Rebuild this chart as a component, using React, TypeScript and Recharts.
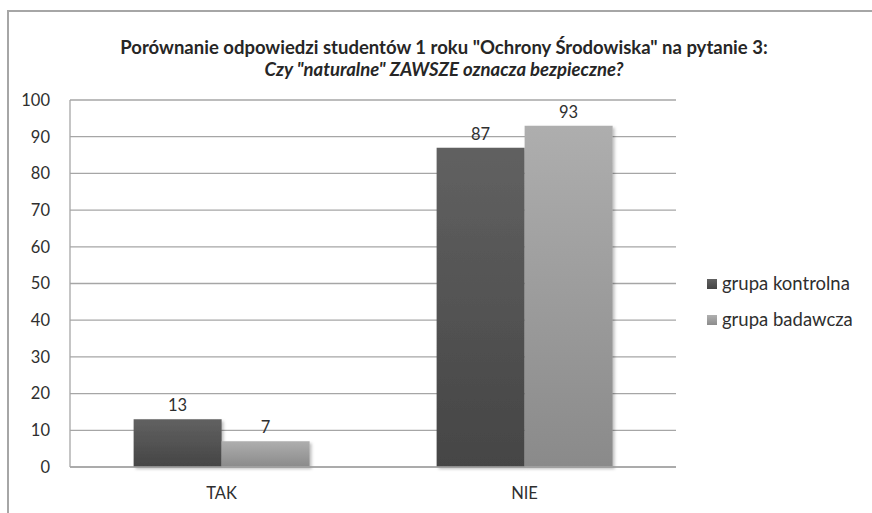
import React from "react";
import { BarChart, Bar, XAxis, YAxis, CartesianGrid, LabelList } from "recharts";

const categories = ["TAK", "NIE"];
const grupaKontrolna = [13, 87];
const grupaBadawcza = [7, 93];
const yTicks = [0, 10, 20, 30, 40, 50, 60, 70, 80, 90, 100];
const seriesNames = ["grupa kontrolna", "grupa badawcza"];
const titleLine1 = 'Porównanie odpowiedzi studentów 1 roku "Ochrony Środowiska" na pytanie 3:';
const titleLine2 = 'Czy "naturalne" ZAWSZE oznacza bezpieczne?';

const data = categories.map((c, i) => ({
  name: c,
  kontrolna: grupaKontrolna[i],
  badawcza: grupaBadawcza[i],
}));

const FONT = "Lato, 'Open Sans', sans-serif";
const TXT = "#2f2f2f";

export default function App() {
  return (
    <div style={{ position: "absolute", left: 0, top: 0, width: 872, height: 513, background: "#fff", overflow: "hidden" }}>
      <div
        style={{
          position: "absolute",
          left: 7,
          top: 10,
          width: 900,
          height: 600,
          borderTop: "2px solid #a6a6a6",
          borderLeft: "2px solid #a6a6a6",
          boxSizing: "border-box",
        }}
      />
      <div
        style={{
          position: "absolute",
          left: 0,
          width: 888,
          top: 36,
          textAlign: "center",
          fontFamily: FONT,
          color: "#262626",
          fontSize: 18.5,
          lineHeight: "22px",
        }}
      >
        <div style={{ fontWeight: 700 }}>{titleLine1}</div>
        <div style={{ fontWeight: 700, fontStyle: "italic" }}>{titleLine2}</div>
      </div>
      <div
        style={{
          position: "absolute",
          left: 707,
          top: 265,
          fontFamily: FONT,
          fontSize: 18.5,
          color: TXT,
        }}
      >
        {seriesNames.map((n, i) => (
          <div key={n} style={{ display: "flex", alignItems: "center", height: 36 }}>
            <div
              style={{
                width: 10,
                height: 10,
                marginRight: 5,
                marginTop: 2,
                background: i === 0 ? "linear-gradient(#626262,#444)" : "linear-gradient(#b0b0b0,#8c8c8c)",
              }}
            />
            <span>{n}</span>
          </div>
        ))}
      </div>
      <div style={{ position: "absolute", left: 0, top: 0 }}>
        <BarChart
          width={872}
          height={513}
          data={data}
          margin={{ top: 100, right: 196, bottom: 16, left: 0 }}
          barCategoryGap="21%"
          barGap={0}
        >
          <defs>
            <linearGradient id="gK" x1="0" y1="0" x2="0" y2="1">
              <stop offset="0%" stopColor="#616161" />
              <stop offset="100%" stopColor="#454545" />
            </linearGradient>
            <linearGradient id="gB" x1="0" y1="0" x2="0" y2="1">
              <stop offset="0%" stopColor="#aeaeae" />
              <stop offset="100%" stopColor="#8a8a8a" />
            </linearGradient>
            <filter id="sh" x="-10%" y="-10%" width="130%" height="130%">
              <feDropShadow dx="2" dy="2" stdDeviation="1.5" floodColor="#000" floodOpacity="0.25" />
            </filter>
          </defs>
          <CartesianGrid vertical={false} stroke="#a6a6a6" strokeWidth={1.3} />
          <XAxis
            dataKey="name"
            height={30}
            tickLine={false}
            axisLine={{ stroke: "#a6a6a6", strokeWidth: 1.3 }}
            tickMargin={14}
            tick={{ fontFamily: FONT, fontSize: 16.5, fill: TXT }}
          />
          <YAxis
            width={70}
            domain={[0, 100]}
            ticks={yTicks}
            interval={0}
            tickLine={false}
            axisLine={{ stroke: "#a6a6a6", strokeWidth: 1.3 }}
            tickMargin={14}
            tick={{ fontFamily: FONT, fontSize: 16.5, fill: TXT }}
          />
          <Bar dataKey="kontrolna" name={seriesNames[0]} fill="url(#gK)" filter="url(#sh)" isAnimationActive={false}>
            <LabelList dataKey="kontrolna" position="top" offset={8} style={{ fontFamily: FONT, fontSize: 16.5, fill: TXT }} />
          </Bar>
          <Bar dataKey="badawcza" name={seriesNames[1]} fill="url(#gB)" filter="url(#sh)" isAnimationActive={false}>
            <LabelList dataKey="badawcza" position="top" offset={8} style={{ fontFamily: FONT, fontSize: 16.5, fill: TXT }} />
          </Bar>
        </BarChart>
      </div>
    </div>
  );
}
